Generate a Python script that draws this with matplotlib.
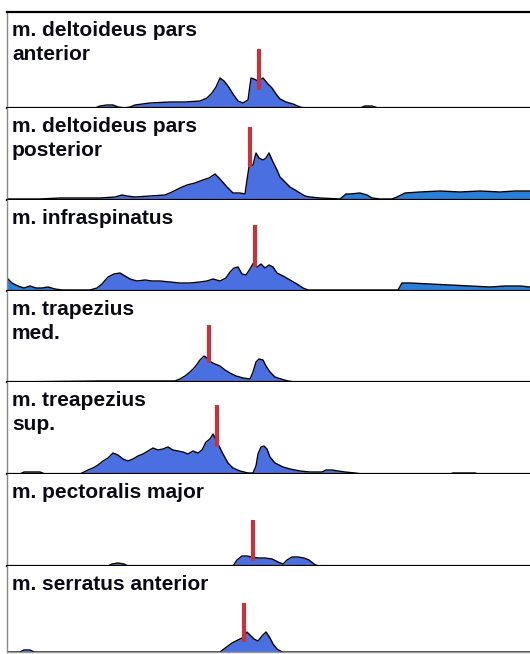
import matplotlib
matplotlib.use("Agg")
import matplotlib.pyplot as plt
import numpy as np

plt.rcParams["font.family"] = ["Liberation Sans", "DejaVu Sans"]

# muscle names (one panel each)
labels = [
    "m. deltoideus pars\nanterior",
    "m. deltoideus pars\nposterior",
    "m. infraspinatus",
    "m. trapezius\nmed.",
    "m. treapezius\nsup.",
    "m. pectoralis major",
    "m. serratus anterior",
]

# EMG envelopes: time samples and amplitude (arbitrary units)
t1 = [7, 95, 100, 107, 113, 118, 125, 130, 135, 150, 170, 185, 200, 207, 212, 216, 220, 224, 228, 233,
      238, 243, 248, 251, 254, 258, 263, 268, 272, 276, 280, 286, 293, 300, 305, 360, 365, 372, 378, 530]
a1 = [0, 0, 2, 3, 3, 1, 0, 1, 3, 5, 6, 6, 7, 10, 15, 21, 30, 27, 22, 14,
      7, 5, 8, 30, 29, 27, 30, 24, 20, 14, 9, 6, 4, 1, 0, 0, 2, 2, 0, 0]

t2 = [7, 40, 60, 100, 115, 122, 127, 135, 150, 165, 172, 180, 187, 195, 203, 209, 215, 220, 227, 233,
      240, 245, 247, 249, 253, 256, 259, 263, 266, 269, 273, 277, 280, 285, 290, 295, 300, 305, 310, 320,
      340, 346, 350, 360, 367, 372, 380, 392, 397, 405, 420, 440, 460, 480, 500, 515, 530]
a2 = [1, 1, 2, 2, 3, 5, 4, 3, 4, 5, 8, 12, 15, 17, 20, 22, 26, 21, 13, 7,
      7, 6, 20, 33, 35, 47, 42, 40, 42, 47, 38, 30, 23, 18, 13, 10, 7, 4, 3, 2,
      1, 6, 6, 7, 5, 2, 1, 1, 3, 7, 8, 9, 8, 9, 8, 9, 9]

t3 = [7, 12, 18, 24, 30, 36, 42, 48, 55, 62, 90, 97, 102, 108, 114, 120, 125, 130, 137, 145,
      152, 160, 170, 180, 190, 200, 207, 213, 220, 226, 230, 234, 238, 242, 246, 250, 254, 257, 261, 265,
      269, 273, 277, 283, 290, 297, 303, 308, 398, 402, 410, 430, 450, 470, 490, 505, 520, 530]
a3 = [13, 8, 5, 3, 5, 3, 3, 4, 2, 1, 1, 3, 7, 14, 17, 18, 15, 12, 10, 11,
      10, 10, 9, 8, 8, 9, 10, 12, 10, 13, 19, 23, 24, 17, 16, 22, 29, 24, 27, 23,
      26, 24, 18, 15, 11, 7, 3, 1, 1, 8, 8, 7, 6, 5, 4, 5, 5, 4]

t4 = [7, 100, 140, 175, 180, 185, 190, 195, 200, 204, 207, 211, 215, 220, 225, 230, 236, 243, 250, 253,
      256, 259, 263, 266, 270, 275, 281, 288, 295, 530]
a4 = [0, 1, 1, 1, 3, 6, 10, 15, 22, 26, 24, 20, 18, 16, 12, 9, 6, 4, 3, 10,
      20, 23, 22, 16, 10, 5, 3, 1, 0, 0]

t5 = [7, 20, 24, 40, 45, 80, 84, 88, 93, 98, 103, 108, 113, 118, 123, 128, 133, 138, 143, 148,
      153, 158, 163, 168, 173, 178, 183, 188, 193, 198, 202, 206, 210, 213, 216, 219, 223, 228, 233, 240,
      248, 253, 256, 258, 261, 264, 267, 270, 275, 283, 290, 300, 310, 322, 326, 332, 338, 345, 355, 362,
      450, 453, 475, 478, 530]
a5 = [0, 0, 2, 2, 0, 0, 2, 4, 6, 9, 13, 16, 21, 19, 15, 13, 15, 18, 20, 23,
      26, 24, 25, 27, 24, 23, 22, 20, 23, 21, 24, 32, 35, 40, 34, 28, 20, 11, 6, 3,
      1, 1, 8, 20, 27, 28, 25, 17, 11, 7, 5, 3, 2, 2, 4, 4, 3, 2, 1, 0,
      0, 1, 1, 0, 0]

t6 = [7, 108, 112, 118, 124, 128, 233, 237, 242, 247, 252, 258, 265, 272, 278, 283, 287, 292, 298, 304,
      309, 314, 318, 530]
a6 = [0, 0, 2, 3, 2, 0, 0, 6, 10, 10, 9, 8, 8, 7, 4, 2, 6, 9, 9, 8,
      6, 2, 0, 0]

t7 = [7, 20, 24, 30, 34, 220, 224, 228, 232, 236, 240, 244, 247, 250, 254, 258, 262, 266, 270, 273,
      277, 282, 530]
a7 = [0, 0, 2, 2, 0, 0, 3, 6, 9, 11, 13, 15, 20, 17, 13, 11, 16, 20, 14, 8,
      3, 0, 0]

# red event marker per panel: time, low, high
mark_t = [259, 250, 255, 209, 217, 253, 244]
mark_lo = [18, 33, 24, 19, 27, 5, 10]
mark_hi = [59, 73, 66, 57, 69, 46, 49]

series = [(t1, a1), (t2, a2), (t3, a3), (t4, a4), (t5, a5), (t6, a6), (t7, a7)]

# layout (pixels) and colours
W, H = 530, 654
edges = [12, 108, 200, 291, 382, 474, 566, 652]
x0 = 7
light_ranges = {1: [(340, 530)], 2: [(7, 62), (398, 530)]}
BLUE = "#4a6fe0"
LIGHT = "#2a7fd8"
RED = "#c9313b"

fig = plt.figure(figsize=(W / 100, H / 100), dpi=100)
fig.patch.set_facecolor("white")

for i, ((t, a), lab) in enumerate(zip(series, labels)):
    top, bot = edges[i], edges[i + 1]
    ax = fig.add_axes([x0 / W, 1 - bot / H, 1 - x0 / W, (bot - top) / H])
    t = np.array(t, dtype=float)
    a = np.array(a, dtype=float)
    ax.fill_between(t, 0, a, color=BLUE, lw=0, zorder=1)
    for lo, hi in light_ranges.get(i, []):
        m = (t >= lo) & (t <= hi)
        ax.fill_between(t, 0, a, where=m, color=LIGHT, lw=0, zorder=1.5)
    ax.plot(t, a, color="black", lw=1.0, zorder=2)
    ax.vlines(mark_t[i], mark_lo[i], mark_hi[i], color=RED, lw=3.0, zorder=3)
    ax.set_xlim(x0, W)
    ax.set_ylim(0, bot - top)
    ax.set_xticks([])
    ax.set_yticks([])
    for s in ax.spines.values():
        s.set_visible(False)
    ax.spines["bottom"].set_visible(True)
    ax.spines["bottom"].set_linewidth(1.6)
    ax.spines["left"].set_visible(True)
    ax.spines["left"].set_color("#888888")
    ax.spines["left"].set_linewidth(1.0)
    if i == 0:
        ax.spines["top"].set_visible(True)
        ax.spines["top"].set_linewidth(1.6)
    if i == len(series) - 1:
        ax.spines["bottom"].set_color("#999999")
        ax.spines["bottom"].set_linewidth(1.0)
    ax.text(5 / (W - x0), 1 - 9 / (bot - top), lab, transform=ax.transAxes,
            ha="left", va="top", fontsize=15, fontweight="bold",
            linespacing=1.35, color="#0a0a14")

fig.savefig("out.png", dpi=100)
